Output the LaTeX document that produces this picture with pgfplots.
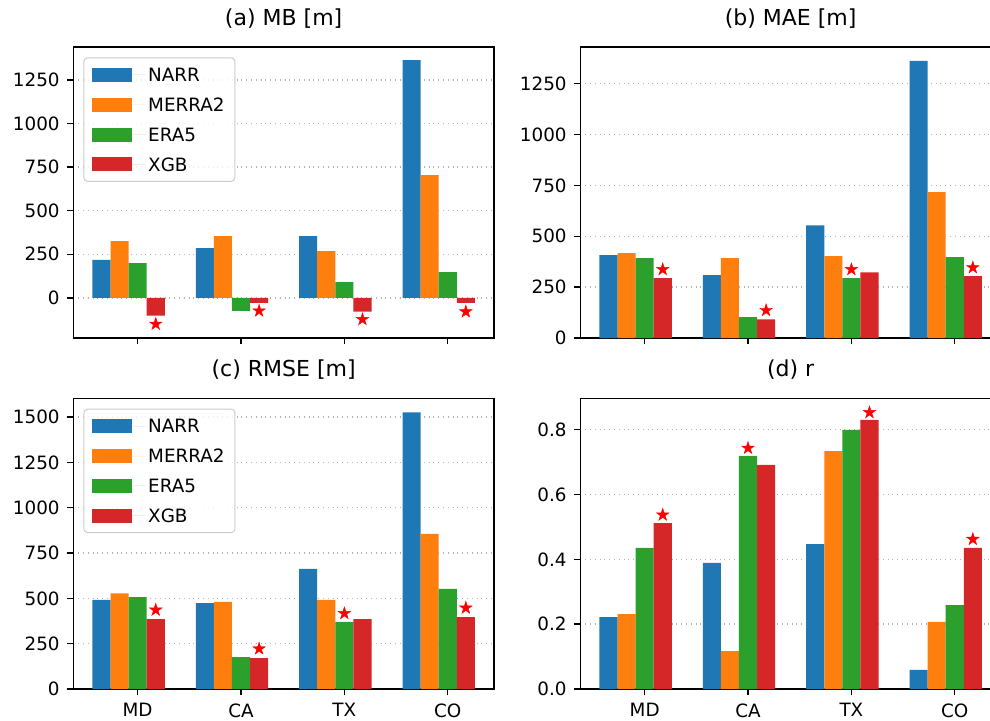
\documentclass[border=0pt]{standalone}
\usepackage{fontspec}
\setmainfont{DejaVu Sans}
\usepackage{pgfplots}
\pgfplotsset{compat=1.18}
\definecolor{cA}{HTML}{1F77B4}
\definecolor{cB}{HTML}{FF7F0E}
\definecolor{cC}{HTML}{2CA02C}
\definecolor{cD}{HTML}{D62728}
\pgfdeclareplotmark{fstar}{%
\pgfpathmoveto{\pgfpointpolar{90}{\pgfplotmarksize}}%
\pgfpathlineto{\pgfpointpolar{126}{0.382\pgfplotmarksize}}%
\pgfpathlineto{\pgfpointpolar{162}{\pgfplotmarksize}}%
\pgfpathlineto{\pgfpointpolar{198}{0.382\pgfplotmarksize}}%
\pgfpathlineto{\pgfpointpolar{234}{\pgfplotmarksize}}%
\pgfpathlineto{\pgfpointpolar{270}{0.382\pgfplotmarksize}}%
\pgfpathlineto{\pgfpointpolar{306}{\pgfplotmarksize}}%
\pgfpathlineto{\pgfpointpolar{342}{0.382\pgfplotmarksize}}%
\pgfpathlineto{\pgfpointpolar{18}{\pgfplotmarksize}}%
\pgfpathlineto{\pgfpointpolar{54}{0.382\pgfplotmarksize}}%
\pgfpathclose\pgfusepathqfillstroke}
\pgfplotsset{
  myax/.style={
    scale only axis, width=210.35pt, height=145.5pt, anchor=south west,
    xmin=-0.6225, xmax=3.4475, xtick={0,1,2,3},
    tick align=outside, major tick length=3.2pt,
    tick style={black, line width=0.73pt},
    axis line style={line width=0.73pt},
    ymajorgrids, grid style={dotted, color=black!30, line width=0.73pt},
    xtick pos=bottom, ytick pos=left,
    tick label style={font=\fontsize{9.17}{11}\selectfont},
    yticklabel style={inner sep=0pt, xshift=-3.45pt},
    xticklabel style={inner sep=0pt, yshift=-3.9pt},
    /pgf/number format/assume math mode=true,
    /pgf/number format/1000 sep={},
    title style={font=\fontsize{11}{13}\selectfont, at={(0.5,1)}, anchor=base, yshift=4.7pt},
    legend style={at={(0,1)}, anchor=north west, xshift=5pt, yshift=-5.15pt,
      draw=black!20, line width=0.5pt, rounded corners=2pt, fill=white, fill opacity=0.8, text opacity=1,
      font=\fontsize{9.17}{11}\selectfont, inner sep=4.2pt, row sep=6.2pt,
      nodes={inner sep=1pt, text height=6.7pt, text depth=0pt},
      /tikz/every even column/.append style={column sep=0pt}},
    legend cell align=left,
    legend image code/.code={\fill[#1, draw=none, fill opacity=1, sharp corners] (0pt,-3.5pt) rectangle (20pt,3.5pt); \path (20pt,0) -- (27pt,0);},
  },
  bA/.style={ybar, bar width=0.175, bar shift=-0.35, fill=cA, draw=none},
  bB/.style={ybar, bar width=0.175, bar shift=-0.175, fill=cB, draw=none},
  bC/.style={ybar, bar width=0.175, bar shift=0, fill=cC, draw=none},
  bD/.style={ybar, bar width=0.175, bar shift=0.175, fill=cD, draw=none},
  st/.style={only marks, mark=fstar, mark size=3.3pt, color=red, mark options={fill=red, draw=red, line width=0.2pt}, forget plot},
}
\begin{document}
\begin{tikzpicture}
\useasboundingbox (0,0) rectangle (495pt,360pt);
% (a) MB
\begin{axis}[myax, at={(36.65pt,191pt)}, ymin=-231, ymax=1440,
  ytick={0,250,500,750,1000,1250}, xticklabels={}, title={(a) MB [m]}]
\addplot[bA] coordinates {(0,217) (1,285) (2,354) (3,1365)};
\addplot[bB] coordinates {(0,326) (1,354) (2,268) (3,705)};
\addplot[bC] coordinates {(0,199) (1,-75) (2,90) (3,148)};
\addplot[bD] coordinates {(0,-103) (1,-29) (2,-80) (3,-29)};
\addplot[st] coordinates {(0.175,-151) (1.175,-75) (2.175,-124) (3.175,-80)};
\legend{NARR,MERRA2,ERA5,XGB}
\end{axis}
% (b) MAE
\begin{axis}[myax, at={(290.15pt,191pt)}, ymin=0, ymax=1430,
  ytick={0,250,500,750,1000,1250}, xticklabels={}, title={(b) MAE [m]}]
\addplot[bA] coordinates {(0,407) (1,309) (2,554) (3,1362)};
\addplot[bB] coordinates {(0,417) (1,392) (2,402) (3,717)};
\addplot[bC] coordinates {(0,392) (1,102) (2,294) (3,397)};
\addplot[bD] coordinates {(0,294) (1,92) (2,323) (3,304)};
\addplot[st] coordinates {(0.175,337) (1.175,136) (2,337) (3.175,346)};
\end{axis}
% (c) RMSE
\begin{axis}[myax, at={(36.65pt,15.5pt)}, height=145.35pt, ymin=0, ymax=1603,
  ytick={0,250,500,750,1000,1250,1500}, xticklabels={MD,CA,TX,CO}, title={(c) RMSE [m]}]
\addplot[bA] coordinates {(0,491) (1,474) (2,662) (3,1526)};
\addplot[bB] coordinates {(0,528) (1,480) (2,491) (3,855)};
\addplot[bC] coordinates {(0,506) (1,176) (2,370) (3,552)};
\addplot[bD] coordinates {(0,386) (1,171) (2,386) (3,397)};
\addplot[st] coordinates {(0.175,436) (1.175,222) (2,417) (3.175,447)};
\legend{NARR,MERRA2,ERA5,XGB}
\end{axis}
% (d) r
\begin{axis}[myax, at={(290.15pt,15.5pt)}, height=145.35pt, ymin=0, ymax=0.8967,
  ytick={0,0.2,0.4,0.6,0.8}, xticklabels={MD,CA,TX,CO}, title={(d) r},
  yticklabel style={/pgf/number format/.cd, fixed, fixed zerofill, precision=1}]
\addplot[bA] coordinates {(0,0.222) (1,0.389) (2,0.447) (3,0.059)};
\addplot[bB] coordinates {(0,0.231) (1,0.117) (2,0.734) (3,0.207)};
\addplot[bC] coordinates {(0,0.435) (1,0.719) (2,0.799) (3,0.259)};
\addplot[bD] coordinates {(0,0.512) (1,0.691) (2,0.830) (3,0.435)};
\addplot[st] coordinates {(0.175,0.537) (1,0.743) (2.175,0.853) (3.175,0.462)};
\end{axis}
\end{tikzpicture}
\end{document}
